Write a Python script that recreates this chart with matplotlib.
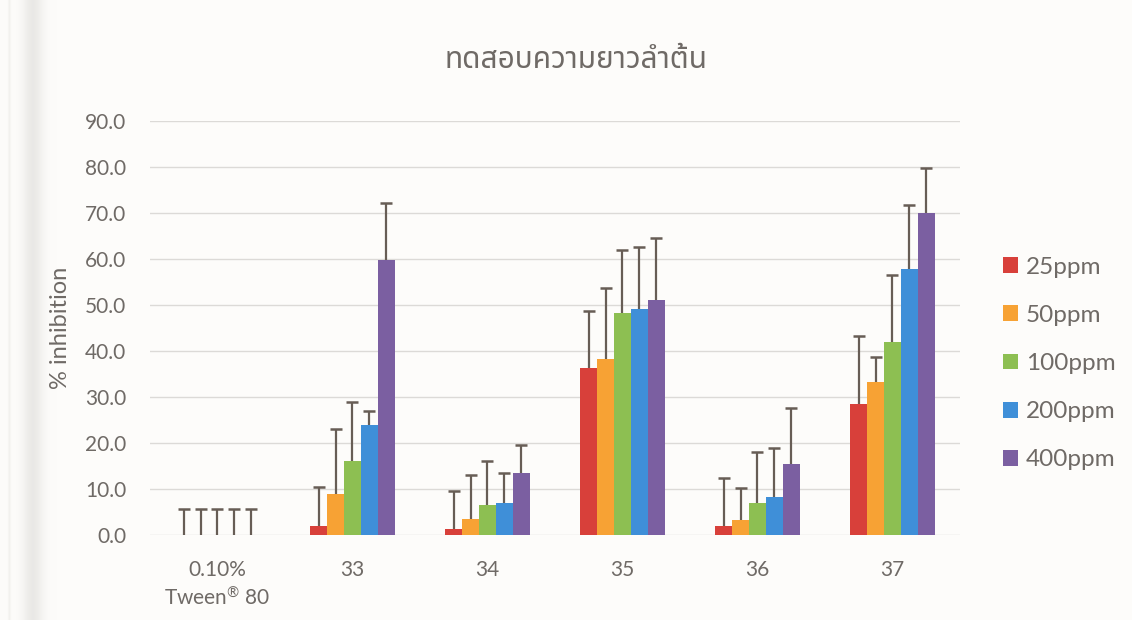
import matplotlib
matplotlib.use("Agg")
import matplotlib.pyplot as plt
from matplotlib import font_manager
from matplotlib.patches import Patch
import numpy as np

# ---- data -------------------------------------------------------------
categories = ["0.10%\nTween$^{\u00ae}$ 80", "33", "34", "35", "36", "37"]
series_names = ["25ppm", "50ppm", "100ppm", "200ppm", "400ppm"]

mean_25 = [0.0, 2.0, 1.2, 36.3, 2.0, 28.5]
mean_50 = [0.0, 8.9, 3.4, 38.3, 3.3, 33.2]
mean_100 = [0.0, 16.1, 6.5, 48.4, 6.9, 42.1]
mean_200 = [0.0, 23.9, 7.0, 49.1, 8.3, 57.9]
mean_400 = [0.0, 59.8, 13.4, 51.1, 15.5, 70.1]

sd_25 = [5.6, 8.5, 8.4, 12.4, 10.3, 14.7]
sd_50 = [5.6, 14.1, 9.6, 15.5, 7.0, 5.6]
sd_100 = [5.6, 12.9, 9.7, 13.6, 11.2, 14.5]
sd_200 = [5.6, 3.1, 6.4, 13.6, 10.7, 13.8]
sd_400 = [5.6, 12.5, 6.2, 13.5, 12.1, 9.7]

yticks = [0, 10, 20, 30, 40, 50, 60, 70, 80, 90]
title = "ทดสอบความยาวลำต้น"
ylabel = "% inhibition"

# ---- fonts ------------------------------------------------------------
def find_family(char, preferred):
    from matplotlib.ft2font import FT2Font
    found = []
    for fe in font_manager.fontManager.ttflist:
        try:
            f = FT2Font(fe.fname)
            if ord(char) in f.get_charmap():
                found.append(fe.name)
        except Exception:
            pass
    for p in preferred:
        if p in found:
            return p
    return found[0] if found else "DejaVu Sans"

latin_family = "Lato"
thai_family = find_family("\u0e17", ["Noto Sans Thai", "Noto Sans Thai UI", "Loma",
                                      "Garuda", "Norasi", "Sawasdee", "DejaVu Sans"])

plt.rcParams["mathtext.fontset"] = "custom"
plt.rcParams["mathtext.rm"] = latin_family
plt.rcParams["mathtext.it"] = latin_family
plt.rcParams["mathtext.default"] = "rm"

text_color = "#6f6a66"
colors = ["#d8403a", "#f7a234", "#8dbf52", "#3f8fd8", "#7b5fa1"]
err_color = "#675d55"
bg = "#fdfcfa"

means = [mean_25, mean_50, mean_100, mean_200, mean_400]
sds = [sd_25, sd_50, sd_100, sd_200, sd_400]

fig = plt.figure(figsize=(11.32, 6.2), dpi=100)
fig.patch.set_facecolor(bg)

# soft paper-edge shading along the left border
edge_ax = fig.add_axes([0.0, 0.0, 0.05, 1.0], zorder=-1)
edge_ax.set_axis_off()
xs = np.linspace(0, 1, 60)
shade = (np.exp(-((xs - 0.58) / 0.18) ** 2) * 0.075
         + np.exp(-((xs - 0.16) / 0.02) ** 2) * 0.05)
base = np.array([0xfd, 0xfc, 0xfa]) / 255.0
rgb = np.clip(base[None, :] - shade[:, None] * np.array([1.0, 1.0, 1.05]), 0, 1)
edge_ax.imshow(rgb[None, :, :], aspect="auto", extent=[0, 1, 0, 1],
               interpolation="bilinear")

ax = fig.add_axes([0.1325, 0.1371, 0.7155, 0.6671])
ax.set_facecolor("none")

x = np.arange(len(categories))
width = 0.125
for i, (m, s, c, name) in enumerate(zip(means, sds, colors, series_names)):
    pos = x + (i - 2) * width
    m = np.asarray(m)
    s = np.asarray(s)
    ax.bar(pos, m, width=width, color=c, label=name, zorder=3)
    ax.vlines(pos, m, m + s, color=err_color, linewidth=1.6, zorder=4)
    ax.plot(pos, m + s, linestyle="none", marker="_", markersize=8.5,
            markeredgewidth=1.8, color=err_color, zorder=4)

ax.set_xlim(-0.5, len(categories) - 0.5)
ax.set_ylim(0, 90)
ax.set_yticks(yticks)
ax.set_yticklabels([f"{v:.1f}" for v in yticks], fontsize=15, color=text_color,
                   family=latin_family)
ax.set_xticks(x)
ax.set_xticklabels(categories, fontsize=15, color=text_color, family=latin_family,
                   linespacing=1.3)
ax.tick_params(axis="both", length=0)
ax.tick_params(axis="y", pad=17)
ax.tick_params(axis="x", pad=18)
ax.grid(axis="y", color="#dcdad7", linewidth=1.0, zorder=0)
for sp in ax.spines.values():
    sp.set_visible(False)

ax.set_ylabel(ylabel, fontsize=17, color=text_color, family=latin_family, labelpad=10)

fig.text(0.509, 0.903, title, ha="center", va="center", fontsize=21.5,
         color=text_color, family=[thai_family, "DejaVu Sans"])

handles = [Patch(facecolor=c, edgecolor="none") for c in colors]
leg = fig.legend(handles, series_names, loc="center left",
                 bbox_to_anchor=(0.867, 0.4137), frameon=False,
                 prop={"family": latin_family, "size": 17.5},
                 handlelength=0.62, handleheight=0.62, handletextpad=0.3,
                 labelspacing=1.12)
for t in leg.get_texts():
    t.set_color(text_color)

fig.savefig("out.png", dpi=100, facecolor=fig.get_facecolor())
